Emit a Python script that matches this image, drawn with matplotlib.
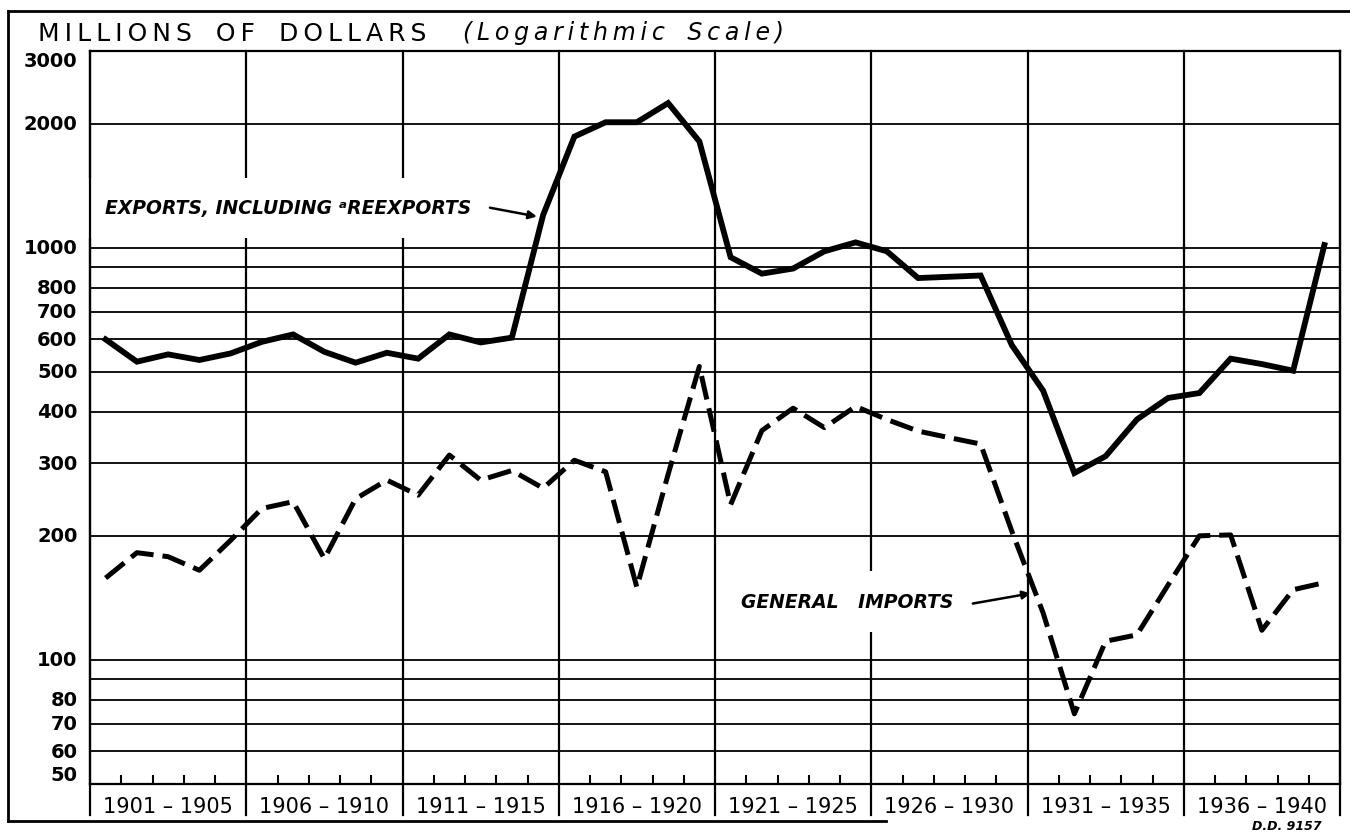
import matplotlib
matplotlib.use("Agg")
import matplotlib.pyplot as plt
from matplotlib.lines import Line2D
from matplotlib.transforms import blended_transform_factory
from matplotlib.ticker import NullLocator

plt.rcParams['font.family'] = ['DejaVu Sans']

# --- data (millions of dollars) ---
years = list(range(1901, 1941))
exports = [599, 529, 551, 534, 554, 591, 616, 559, 526, 556,
           538, 616, 589, 605, 1200, 1860, 2015, 2015, 2243, 1810,
           948, 865, 890, 980, 1030, 980, 844, 850, 856, 580,
           450, 284, 312, 383, 432, 444, 538, 522, 503, 1015]
imports = [158, 182, 178, 165, 195, 233, 242, 176, 246, 273,
           251, 314, 273, 288, 261, 305, 286, 150, 282, 515,
           238, 360, 408, 366, 412, 383, 359, 346, 334, 205,
           130, 74, 111, 115, 152, 200, 201, 118, 148, 154]

period_labels = ['1901 – 1905', '1906 – 1910', '1911 – 1915', '1916 – 1920',
                 '1921 – 1925', '1926 – 1930', '1931 – 1935', '1936 – 1940']
ytick_values = [3000, 2000, 1000, 800, 700, 600, 500, 400, 300, 200,
                100, 80, 70, 60, 50]
grid_values = [2000, 1000, 900, 800, 700, 600, 500, 400, 300, 200,
               100, 90, 80, 70, 60]


def spaced(s):
    # hand-lettered look: a thin space between letters
    return '\u2009'.join(s)


# --- figure and axes ---
fig = plt.figure(figsize=(13.5, 8.37), dpi=100)
ax = fig.add_axes([90 / 1350, 1 - 785 / 837, 1250 / 1350, 733 / 837])
ax.set_yscale('log')
ax.set_ylim(50, 3000)
ax.set_xlim(1900.5, 1940.5)

for s in ax.spines.values():
    s.set_linewidth(1.6)

# horizontal rulings
for v in grid_values:
    ax.axhline(v, color='black', lw=1.3, zorder=1)

# period separators, running down through the label row
edges = [1900.5 + 5 * k for k in range(9)]
for x in edges:
    ax.axvline(x, ymin=-0.042, ymax=1, color='black', lw=1.6,
               clip_on=False, zorder=1)

# y labels drawn by hand
ax.yaxis.set_major_locator(NullLocator())
ax.yaxis.set_minor_locator(NullLocator())
ytrans = blended_transform_factory(ax.transAxes, ax.transData)
for v in ytick_values:
    va = 'center'
    if v == ytick_values[0]:
        va = 'top'
    elif v == ytick_values[-1]:
        va = 'bottom'
    ax.text(-0.01, v, str(v), transform=ytrans, ha='right', va=va,
            fontsize=14, fontweight='bold')

# x: period labels + small year ticks
centers = [e + 2.5 for e in edges[:-1]]
ax.set_xticks(centers)
ax.set_xticklabels(period_labels, fontsize=15)
ax.tick_params(axis='x', which='major', length=0, pad=9)
year_marks = [1901.5 + k for k in range(39) if (k + 1) % 5 != 0]
ax.set_xticks(year_marks, minor=True)
ax.tick_params(axis='x', which='minor', direction='in', length=6.5, width=1.5)

# --- the two series ---
ax.plot(years, exports, color='black', lw=4.2, solid_joinstyle='miter', zorder=3)
ax.plot(years, imports, color='black', lw=3.6, dashes=(4.8, 1.8),
        dash_capstyle='butt', zorder=3)

# --- series labels ---
box = dict(facecolor='white', edgecolor='none', boxstyle='square,pad=1.1')
ax.text(1900.98, 1250, 'EXPORTS, INCLUDING \u1d43REEXPORTS', fontsize=13.5,
        fontweight='bold', style='italic', ha='left', va='center',
        bbox=box, zorder=2)
ax.annotate('', xy=(1914.8, 1190), xytext=(1913.3, 1250),
            arrowprops=dict(arrowstyle='-|>', color='black', lw=1.8,
                            shrinkA=0, shrinkB=0, mutation_scale=12), zorder=4)

ax.text(1921.33, 138.5, 'GENERAL   IMPORTS', fontsize=13.5, fontweight='bold',
        style='italic', ha='left', va='center', bbox=box, zorder=2)
ax.annotate('', xy=(1930.6, 145), xytext=(1928.75, 137),
            arrowprops=dict(arrowstyle='-|>', color='black', lw=1.8,
                            shrinkA=0, shrinkB=0, mutation_scale=12), zorder=4)

# --- titles and outer frame ---
fig.text(38 / 1350, 1 - 34 / 837,
         spaced('MILLIONS') + '   ' + spaced('OF') + '   ' + spaced('DOLLARS'),
         fontsize=18, ha='left', va='center')
fig.text(463 / 1350, 1 - 33 / 837,
         spaced('(Logarithmic') + '   ' + spaced('Scale)'),
         fontsize=17, style='italic', ha='left', va='center')
fig.text(1322 / 1350, 1 - 827 / 837, 'D.D. 9157', fontsize=9,
         fontweight='bold', style='italic', ha='right', va='center')

fx0, fy_top, fy_bot = 8 / 1350, 1 - 12 / 837, 1 - 822 / 837
fig.add_artist(Line2D([fx0, fx0], [fy_bot, fy_top], color='black', lw=2))
fig.add_artist(Line2D([fx0, 1.0], [fy_top, fy_top], color='black', lw=2))
fig.add_artist(Line2D([fx0, 886 / 1350], [fy_bot, fy_bot], color='black', lw=2))

fig.savefig('out.png', dpi=100)
